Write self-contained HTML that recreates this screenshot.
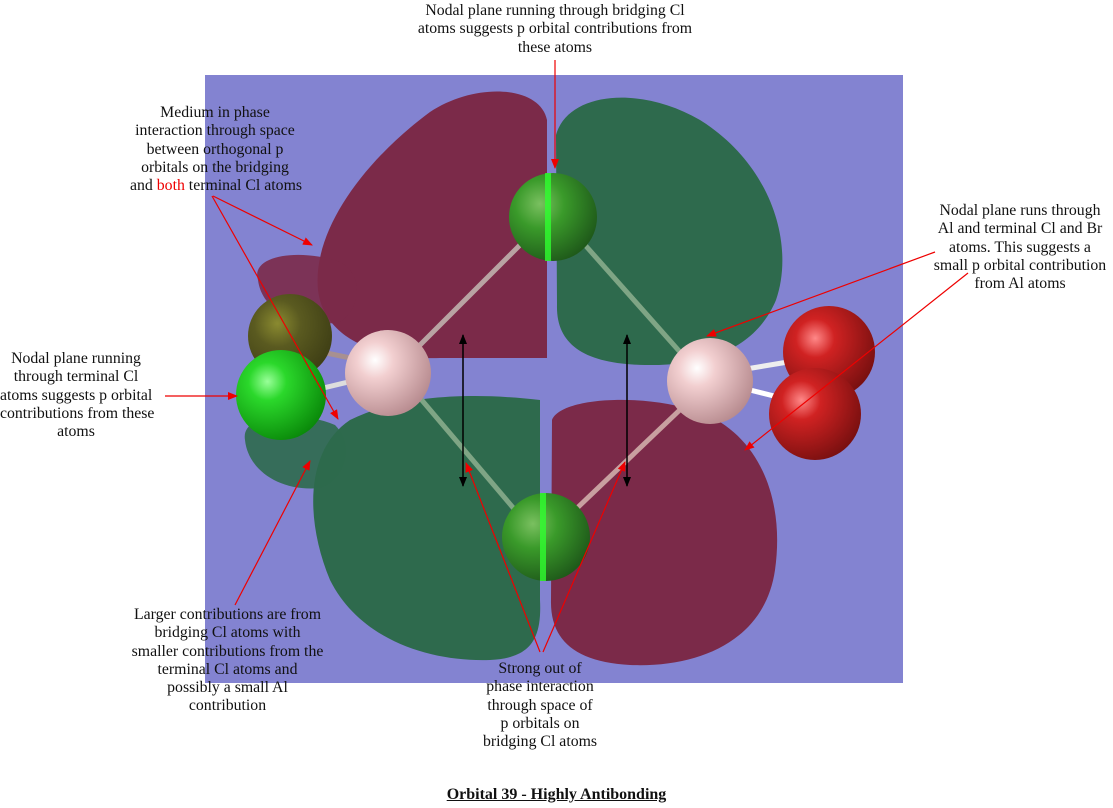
<!DOCTYPE html>
<html><head><meta charset="utf-8"><style>
body{margin:0;width:1113px;height:808px;background:#fff;position:relative;overflow:hidden;font-family:"Liberation Serif",serif;}
.t{position:absolute;font-size:15.8px;line-height:18.3px;text-align:center;color:#111;white-space:nowrap;}
svg{position:absolute;left:0;top:0}
</style></head><body>
<svg width="1113" height="808">
<defs>
<radialGradient id="gA" cx="0.35" cy="0.35" r="0.7"><stop offset="0" stop-color="#fff"/><stop offset="0.3" stop-color="#f2cfd0"/><stop offset="1" stop-color="#b88c90"/></radialGradient>
<radialGradient id="gC" cx="0.35" cy="0.35" r="0.7"><stop offset="0" stop-color="#9f9"/><stop offset="0.3" stop-color="#2bd82b"/><stop offset="1" stop-color="#0a8a0a"/></radialGradient>
<radialGradient id="gD" cx="0.35" cy="0.35" r="0.7"><stop offset="0" stop-color="#7ac060"/><stop offset="0.4" stop-color="#3a9a2a"/><stop offset="1" stop-color="#1f5a1a"/></radialGradient>
<radialGradient id="gO" cx="0.35" cy="0.35" r="0.7"><stop offset="0" stop-color="#8a8a30"/><stop offset="0.4" stop-color="#5a5a20"/><stop offset="1" stop-color="#3f3f15"/></radialGradient>
<radialGradient id="gR" cx="0.35" cy="0.35" r="0.7"><stop offset="0" stop-color="#f88"/><stop offset="0.3" stop-color="#d02222"/><stop offset="1" stop-color="#7a1010"/></radialGradient>
<marker id="ar" markerWidth="10" markerHeight="8" refX="9" refY="4" orient="auto" markerUnits="userSpaceOnUse"><path d="M0,0 L10,4 L0,8 Z" fill="#e00"/></marker>
<marker id="ab" markerWidth="10" markerHeight="8" refX="9" refY="4" orient="auto-start-reverse" markerUnits="userSpaceOnUse"><path d="M0,0 L10,4 L0,8 Z" fill="#000"/></marker>
</defs>
<rect x="205" y="75" width="698" height="608" fill="#8383d1"/>
<path d="M547,120 C540,85 475,82 430,112 C365,160 312,230 318,290 C324,340 380,360 440,358 L547,358 Z" fill="#7b2a49"/>
<path d="M556,135 C568,92 640,85 700,120 C772,165 795,245 776,300 C755,350 705,366 645,365 C585,364 556,345 557,305 Z" fill="#2e6a4d"/>
<path d="M540,400 C470,392 400,395 350,420 C305,450 305,520 330,580 C360,640 430,662 490,660 C530,658 542,640 540,600 Z" fill="#2e6a4d"/>
<path d="M552,420 C560,398 640,392 700,412 C760,435 785,500 775,570 C765,640 700,668 630,665 C575,662 550,640 551,600 Z" fill="#7b2a49"/>
<path d="M258,280 C250,255 300,248 340,262 C365,275 360,310 340,322 C300,330 262,312 258,280 Z" fill="#7b2a49" opacity="0.9"/>
<path d="M245,440 C240,412 300,410 335,425 C355,445 345,480 320,488 C280,492 248,470 245,440 Z" fill="#2e6a4d" opacity="0.9"/>
<line x1="420" y1="345" x2="520" y2="245" stroke="#b9a3a3" stroke-width="5"/>
<line x1="420" y1="398" x2="515" y2="510" stroke="#7fa585" stroke-width="5"/>
<line x1="680" y1="352" x2="585" y2="245" stroke="#7fa585" stroke-width="5"/>
<line x1="685" y1="405" x2="575" y2="510" stroke="#c8a0a0" stroke-width="5"/>
<line x1="312" y1="350" x2="360" y2="360" stroke="#a89090" stroke-width="5"/>
<line x1="315" y1="390" x2="365" y2="378" stroke="#ddd" stroke-width="5"/>
<line x1="740" y1="370" x2="800" y2="360" stroke="#eee" stroke-width="5"/>
<line x1="730" y1="385" x2="790" y2="400" stroke="#fff" stroke-width="5"/>
<circle cx="290" cy="336" r="42" fill="url(#gO)"/>
<circle cx="281" cy="395" r="45" fill="url(#gC)"/>
<circle cx="388" cy="373" r="43" fill="url(#gA)"/>
<circle cx="710" cy="381" r="43" fill="url(#gA)"/>
<circle cx="829" cy="352" r="46" fill="url(#gR)"/>
<circle cx="815" cy="414" r="46" fill="url(#gR)"/>
<circle cx="553" cy="217" r="44" fill="url(#gD)"/>
<rect x="545" y="173" width="6" height="88" fill="#30ff30" opacity="0.8"/>
<circle cx="546" cy="537" r="44" fill="url(#gD)"/>
<rect x="540" y="493" width="6" height="88" fill="#30ff30" opacity="0.8"/>
<line x1="463" y1="335" x2="463" y2="486" stroke="#000" stroke-width="1.5" marker-end="url(#ab)" marker-start="url(#ab)"/>
<line x1="627" y1="335" x2="627" y2="486" stroke="#000" stroke-width="1.5" marker-end="url(#ab)" marker-start="url(#ab)"/>
<g stroke="#e00" stroke-width="1.2" fill="none" marker-end="url(#ar)">
<line x1="555" y1="60" x2="555" y2="168"/>
<line x1="213" y1="196" x2="312" y2="245"/>
<line x1="212" y1="196" x2="338" y2="419"/>
<line x1="165" y1="396" x2="237" y2="396"/>
<line x1="935" y1="252" x2="707" y2="336"/>
<line x1="968" y1="273" x2="745" y2="450"/>
<line x1="235" y1="605" x2="310" y2="461"/>
<line x1="540" y1="652" x2="466" y2="463"/>
<line x1="543" y1="652" x2="625" y2="462"/>
</g>
</svg>
<div class="t" style="left:405px;top:2px;width:300px">Nodal plane running through bridging Cl<br>atoms suggests p orbital contributions from<br>these atoms</div>
<div class="t" style="left:130px;top:104px;width:170px">Medium in phase<br>interaction through space<br>between orthogonal p<br>orbitals on the bridging<br>and <span style="color:#e00">both</span> terminal Cl atoms</div>
<div class="t" style="left:0;top:350px;width:152px">Nodal plane running<br>through terminal Cl<br>atoms suggests p orbital<br>contributions from these<br>atoms</div>
<div class="t" style="left:925px;top:202px;width:190px">Nodal plane runs through<br>Al and terminal Cl and Br<br>atoms. This suggests a<br>small p orbital contribution<br>from Al atoms</div>
<div class="t" style="left:115px;top:606px;width:225px">Larger contributions are from<br>bridging Cl atoms with<br>smaller contributions from the<br>terminal Cl atoms and<br>possibly a small Al<br>contribution</div>
<div class="t" style="left:450px;top:660px;width:180px">Strong out of<br>phase interaction<br>through space of<br>p orbitals on<br>bridging Cl atoms</div>
<div class="t" style="left:400px;top:786px;width:313px;font-size:16px;font-weight:bold;text-decoration:underline">Orbital 39 - Highly Antibonding</div>
</body></html>
